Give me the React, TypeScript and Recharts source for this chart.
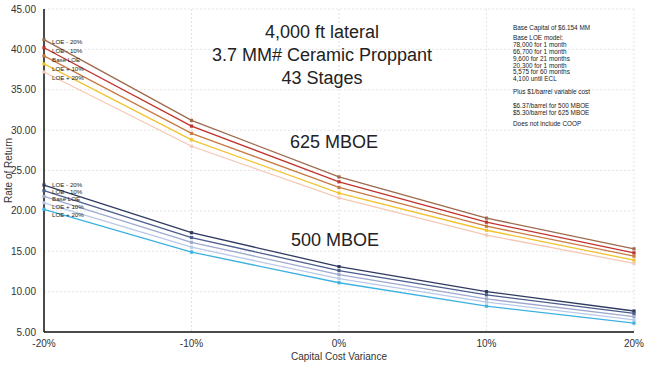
import React from "react";
import {
  LineChart,
  Line,
  XAxis,
  YAxis,
  CartesianGrid,
  LabelList,
  Label,
} from "recharts";

const variances = [-20, -10, 0, 10, 20];
const yTicks = [5, 10, 15, 20, 25, 30, 35, 40, 45];

// 625 MBOE
const loeM20_625 = [41.2, 31.2, 24.2, 19.1, 15.3];
const loeM10_625 = [40.2, 30.5, 23.6, 18.6, 14.8];
const base_625 = [39.2, 29.6, 22.9, 18.1, 14.4];
const loeP10_625 = [38.2, 28.8, 22.2, 17.6, 13.9];
const loeP20_625 = [37.2, 28.0, 21.6, 17.0, 13.5];

// 500 MBOE
const loeM20_500 = [23.2, 17.3, 13.1, 10.0, 7.6];
const loeM10_500 = [22.5, 16.7, 12.6, 9.6, 7.3];
const base_500 = [21.8, 16.1, 12.1, 9.1, 6.9];
const loeP10_500 = [21.0, 15.5, 11.6, 8.7, 6.5];
const loeP20_500 = [20.2, 14.9, 11.1, 8.2, 6.1];

const titleLines = ["4,000 ft lateral", "3.7 MM# Ceramic Proppant", "43 Stages"];
const noteLines = [
  "Base Capital of $6.154 MM",
  "Base LOE model:",
  "78,000 for 1 month",
  "66,700 for 1 month",
  "9,600 for 21 months",
  "20,300 for 1 month",
  "5,575 for 60 months",
  "4,100 until ECL",
  "Plus $1/barrel variable cost",
  "$6.37/barrel for 500 MBOE",
  "$5.30/barrel for 625 MBOE",
  "Does not include COOP",
];
const noteSpacing = [0, 10, 7, 7, 7, 7, 6.7, 6.7, 13, 14, 7, 11];

const seriesDefs = [
  { key: "a625", name: "LOE - 20%", values: loeM20_625, color: "#9c6a4c", dy: 3 },
  { key: "b625", name: "LOE - 10%", values: loeM10_625, color: "#c0332c", dy: 4 },
  { key: "c625", name: "Base LOE", values: base_625, color: "#c77a42", dy: 5 },
  { key: "d625", name: "LOE + 10%", values: loeP10_625, color: "#f2c22f", dy: 5.5 },
  { key: "e625", name: "LOE + 20%", values: loeP20_625, color: "#f3c8b6", dy: 6 },
  { key: "a500", name: "LOE - 20%", values: loeM20_500, color: "#2f3a60", dy: 0 },
  { key: "b500", name: "LOE - 10%", values: loeM10_500, color: "#4b5d8d", dy: 2 },
  { key: "c500", name: "Base LOE", values: base_500, color: "#9ea9cf", dy: 3.5 },
  { key: "d500", name: "LOE + 10%", values: loeP10_500, color: "#b9c9e8", dy: 5 },
  { key: "e500", name: "LOE + 20%", values: loeP20_500, color: "#3cb1e2", dy: 6.5 },
];

const data = variances.map((v, i) => {
  const row: Record<string, number> = { x: v };
  seriesDefs.forEach((s) => {
    row[s.key] = s.values[i];
  });
  return row;
});

const FONT = "'Liberation Sans', Arial, Helvetica, sans-serif";

const makeDot = (color: string) => (props: any) => {
  const { cx, cy, index } = props;
  if (cx == null || cy == null) return <g key={index} />;
  return <rect key={index} x={cx - 1.6} y={cy - 1.6} width={3.2} height={3.2} fill={color} />;
};

const makeLabel = (name: string, dy: number) => (props: any) => {
  const { x, y, index } = props;
  if (index !== 0) return null;
  return (
    <text
      x={Number(x) + 8}
      y={Number(y) + dy}
      fontSize={6.2}
      fontFamily={FONT}
      fill="#222"
      dominantBaseline="middle"
    >
      {name}
    </text>
  );
};

export default function App() {
  let noteY = 28;
  return (
    <div style={{ position: "absolute", left: 0, top: 0, width: 650, height: 365, background: "#fff" }}>
      <LineChart
        width={650}
        height={365}
        data={data}
        margin={{ top: 9, right: 16, bottom: 0, left: 0 }}
      >
        <CartesianGrid stroke="#e4e4e4" strokeDasharray="2 2" />
        <XAxis
          dataKey="x"
          type="number"
          domain={[-20, 20]}
          ticks={variances}
          tickFormatter={(v: number) => `${v}%`}
          height={33}
          tickLine={false}
          tickMargin={2}
          axisLine={{ stroke: "#111", strokeWidth: 1.5 }}
          tick={{ fontSize: 10, fill: "#333", fontFamily: FONT }}
        >
          <Label
            value="Capital Cost Variance"
            position="insideBottom"
            offset={5}
            style={{ fontSize: 10, fill: "#333", fontFamily: FONT }}
          />
        </XAxis>
        <XAxis
          xAxisId="top"
          orientation="top"
          dataKey="x"
          type="number"
          domain={[-20, 20]}
          height={0}
          tick={false}
          tickLine={false}
          axisLine={{ stroke: "#444", strokeWidth: 1.5 }}
        />
        <YAxis
          type="number"
          domain={[5, 45]}
          ticks={yTicks}
          tickFormatter={(v: number) => v.toFixed(2)}
          width={44}
          tickLine={false}
          tickMargin={2}
          axisLine={{ stroke: "#111", strokeWidth: 1.5 }}
          tick={{ fontSize: 10, fill: "#333", fontFamily: FONT }}
        >
          <Label
            content={(p: any) => {
              const vb = p.viewBox || {};
              const cx = 9;
              const cy = (vb.y ?? 9) + (vb.height ?? 323) / 2;
              return (
                <text
                  x={cx}
                  y={cy}
                  transform={`rotate(-90 ${cx} ${cy})`}
                  textAnchor="middle"
                  dominantBaseline="middle"
                  fontSize={10}
                  fontFamily={FONT}
                  fill="#333"
                >
                  Rate of Return
                </text>
              );
            }}
          />
        </YAxis>
        <YAxis
          yAxisId="right"
          orientation="right"
          type="number"
          domain={[5, 45]}
          width={0}
          tick={false}
          tickLine={false}
          axisLine={{ stroke: "#444", strokeWidth: 1.5 }}
        />
        {seriesDefs.map((s) => (
          <Line
            key={s.key}
            dataKey={s.key}
            name={s.name}
            type="linear"
            stroke={s.color}
            strokeWidth={1.3}
            dot={makeDot(s.color)}
            activeDot={false}
            isAnimationActive={false}
          >
            <LabelList dataKey={s.key} content={makeLabel(s.name, s.dy)} />
          </Line>
        ))}
      </LineChart>
      <svg
        width={650}
        height={365}
        style={{ position: "absolute", left: 0, top: 0, pointerEvents: "none" }}
      >
        <text x={322} y={33} textAnchor="middle" dominantBaseline="middle" fontSize={18} fontFamily={FONT} fill="#222">
          {titleLines.map((t, i) => (
            <tspan key={i} x={322} dy={i === 0 ? 0 : 23}>
              {t}
            </tspan>
          ))}
        </text>
        <text x={334} y={143} textAnchor="middle" dominantBaseline="middle" fontSize={18} fontFamily={FONT} fill="#222">
          625 MBOE
        </text>
        <text x={335} y={241} textAnchor="middle" dominantBaseline="middle" fontSize={18} fontFamily={FONT} fill="#222">
          500 MBOE
        </text>
        {noteLines.map((t, i) => {
          noteY += noteSpacing[i];
          return (
            <text key={i} x={513} y={noteY} fontSize={6.4} fontFamily={FONT} fill="#222" dominantBaseline="middle">
              {t}
            </text>
          );
        })}
      </svg>
    </div>
  );
}
